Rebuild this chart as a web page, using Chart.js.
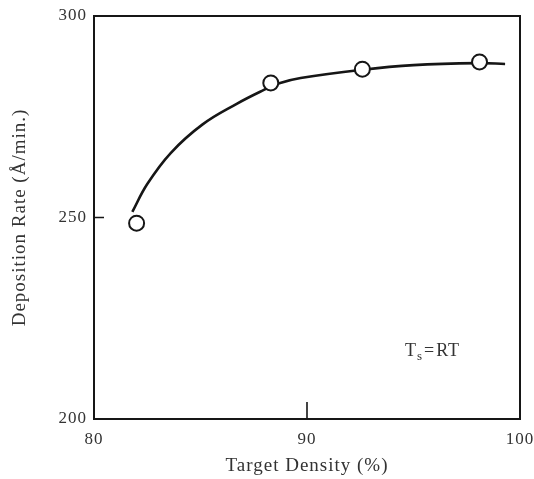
<!DOCTYPE html>
<html>
<head>
<meta charset="utf-8">
<script src="https://cdn.jsdelivr.net/npm/chart.js@4/dist/chart.umd.min.js"></script>
<style>
  html, body { margin: 0; padding: 0; background: #fff; }
  #wrap { width: 534px; height: 479px; }
</style>
</head>
<body>
<div id="wrap"><canvas id="c" width="534" height="479"></canvas></div>
<script>
// Measured deposition rate vs. target density (open circles)
const measuredDensity = [82.0, 88.3, 92.6, 98.1];
const measuredRate = [248.6, 283.4, 286.8, 288.6];

// Hand-drawn trend curve through the measurements
const curveDensity = [81.8, 82.5, 83.6, 85.1, 86.7, 87.8, 88.7, 89.7, 92.5, 95.0, 98.1, 99.3];
const curveRate = [251.4, 258.3, 266.0, 273.1, 278.2, 281.2, 283.3, 284.6, 286.6, 287.8, 288.3, 288.1];

// Axis tick values
const densityTicks = [80, 90, 100];
const rateTicks = [200, 250, 300];

const SERIF = '"Liberation Serif", "Times New Roman", serif';
const INK = '#161616';
const TEXT = '#333';

// Slightly spaced lettering for all canvas text
const spacing = {
  id: 'spacing',
  beforeDraw(chart) { chart.ctx.letterSpacing = '1px'; }
};

// Box frame plus the inward-pointing intermediate tick marks
const frame = {
  id: 'frame',
  afterDraw(chart) {
    const { ctx, chartArea: a, scales: { x, y } } = chart;
    ctx.save();
    ctx.strokeStyle = INK;
    ctx.lineWidth = 2;
    ctx.strokeRect(a.left, a.top, a.right - a.left, a.bottom - a.top);
    ctx.lineWidth = 1.6;
    ctx.beginPath();
    rateTicks.forEach(v => {
      const py = y.getPixelForValue(v);
      if (py > a.top + 1 && py < a.bottom - 1) { ctx.moveTo(a.left, py); ctx.lineTo(a.left + 10, py); }
    });
    densityTicks.forEach(v => {
      const px = x.getPixelForValue(v);
      if (px > a.left + 1 && px < a.right - 1) { ctx.moveTo(px, a.bottom); ctx.lineTo(px, a.bottom - 17); }
    });
    ctx.stroke();
    ctx.restore();
  }
};

// Substrate temperature note: T_s = RT
const note = {
  id: 'note',
  afterDraw(chart) {
    const { ctx, scales: { x, y } } = chart;
    const px = x.getPixelForValue(94.6);
    const py = y.getPixelForValue(215.6);
    ctx.save();
    ctx.fillStyle = TEXT;
    ctx.textBaseline = 'alphabetic';
    ctx.textAlign = 'left';
    ctx.font = '18px ' + SERIF;
    ctx.fillText('T', px, py);
    let cx = px + ctx.measureText('T').width;
    ctx.font = '13px ' + SERIF;
    ctx.fillText('s', cx, py + 4);
    cx += ctx.measureText('s').width + 1;
    ctx.font = '18px ' + SERIF;
    ctx.fillText('=', cx, py);
    cx += ctx.measureText('=').width + 1;
    ctx.fillText('RT', cx, py);
    ctx.restore();
  }
};

new Chart(document.getElementById('c'), {
  type: 'scatter',
  data: {
    datasets: [
      {
        type: 'scatter',
        data: measuredDensity.map((v, i) => ({ x: v, y: measuredRate[i] })),
        pointRadius: 7.5,
        pointBorderWidth: 2,
        pointBackgroundColor: '#fff',
        pointBorderColor: INK,
        order: 0
      },
      {
        type: 'line',
        data: curveDensity.map((v, i) => ({ x: v, y: curveRate[i] })),
        borderColor: INK,
        borderWidth: 2.6,
        pointRadius: 0,
        tension: 0.4,
        fill: false,
        showLine: true,
        order: 1
      }
    ]
  },
  options: {
    responsive: false,
    animation: false,
    events: [],
    layout: { padding: { top: 16, right: 14, left: 0, bottom: 0 } },
    plugins: { legend: { display: false }, tooltip: { enabled: false } },
    scales: {
      x: {
        type: 'linear',
        min: 80,
        max: 100,
        afterFit(s) { s.height = 60; s.paddingLeft = 0; s.paddingRight = 0; },
        afterBuildTicks(s) { s.ticks = densityTicks.map(v => ({ value: v })); },
        grid: { display: false, drawTicks: false },
        border: { display: false },
        ticks: { padding: 10, color: TEXT, font: { family: SERIF, size: 17 }, maxRotation: 0, autoSkip: false },
        title: { display: true, text: 'Target Density (%)', color: TEXT, font: { family: SERIF, size: 19 }, padding: { top: 0, bottom: 2 } }
      },
      y: {
        type: 'linear',
        min: 200,
        max: 300,
        afterFit(s) { s.width = 94; s.paddingTop = 0; s.paddingBottom = 0; },
        afterBuildTicks(s) { s.ticks = rateTicks.map(v => ({ value: v })); },
        grid: { display: false, drawTicks: false },
        border: { display: false },
        ticks: { padding: 7, color: TEXT, font: { family: SERIF, size: 17 }, autoSkip: false },
        title: { display: true, text: 'Deposition Rate (Å/min.)', color: TEXT, font: { family: SERIF, size: 19 }, padding: { top: 9, bottom: 0 } }
      }
    }
  },
  plugins: [spacing, frame, note]
});
</script>
</body>
</html>
